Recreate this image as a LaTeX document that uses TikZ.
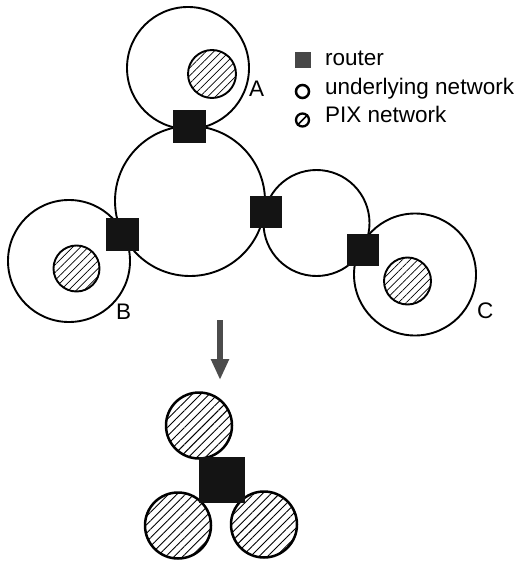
\documentclass[tikz,border=0pt]{standalone}
\usepackage{fontspec}
\setmainfont{Liberation Sans}
\usetikzlibrary{patterns.meta,arrows.meta}
\begin{document}
\begin{tikzpicture}[x=1pt,y=-1pt,
  net/.style={circle,draw=black,line width=1.9pt,inner sep=0pt},
  pix/.style={circle,draw=black,line width=1.9pt,inner sep=0pt,
    pattern={Lines[angle=45,distance=5.5pt,line width=0.7pt]}},
  bigpix/.style={circle,draw=black,line width=2.5pt,inner sep=0pt,minimum size=66pt,
    pattern={Lines[angle=45,distance=6pt,line width=0.9pt]}},
  router/.style={rectangle,fill=black!92,draw=none,inner sep=0pt,minimum size=33pt},
  lbl/.style={anchor=base west,inner sep=0pt,font=\fontsize{22.5}{26}\selectfont},
  ltxt/.style={anchor=base west,inner sep=0pt,font=\fontsize{22.5}{26}\selectfont}]
\useasboundingbox (0,0) rectangle (523,561);
% underlying networks
\node[net,minimum size=122pt] (netA) at (188,68) {};
\node[net,minimum size=150pt] (netM) at (190,201) {};
\node[net,minimum size=106pt] (netR) at (316.5,223) {};
\node[net,minimum size=122pt] (netB) at (69,261) {};
\node[net,minimum size=122pt] (netC) at (415,274.5) {};
% PIX networks
\node[pix,minimum size=48pt] (pixA) at (212,74) {};
\node[pix,minimum size=46pt] (pixB) at (76.5,268.5) {};
\node[pix,minimum size=47pt] (pixC) at (407.5,281) {};
% routers
\node[router] (rA) at (189.5,126.5) {};
\node[router] (rB) at (122.5,234.5) {};
\node[router,minimum size=32pt] (rM) at (266,212) {};
\node[router,minimum size=32pt] (rC) at (363,249.5) {};
% labels
\node[lbl] (labA) at (249,97) {A};
\node[lbl] (labB) at (116,319) {B};
\node[lbl] (labC) at (477,318) {C};
% legend
\node[rectangle,fill=black!72,minimum size=16pt,inner sep=0pt] (legR) at (302.5,60) {};
\node[circle,draw=black,line width=2.5pt,minimum size=13pt,inner sep=0pt] (legU) at (302.5,91.5) {};
\node[circle,draw=black,line width=2.3pt,minimum size=13pt,inner sep=0pt] (legP) at (302.5,120) {};
\draw[line width=1.5pt] (legP.south west) -- (legP.north east);
\node[ltxt] (tR) at (325,66) {router};
\node[ltxt] (tU) at (325,95) {underlying network};
\node[ltxt] (tP) at (325,123) {PIX network};
% arrow
\coordinate (arrS) at (220,320);
\coordinate (arrE) at (220,380);
\draw[line width=6pt,black!70,-{Triangle[width=17pt,length=21pt]}] (arrS) -- (arrE);
% result
\node[bigpix] (p1) at (199,425.5) {};
\node[bigpix] (p2) at (178,525.5) {};
\node[bigpix] (p3) at (264,524.5) {};
\node[router,minimum size=46pt] (rX) at (221.5,479.5) {};
\end{tikzpicture}
\end{document}
